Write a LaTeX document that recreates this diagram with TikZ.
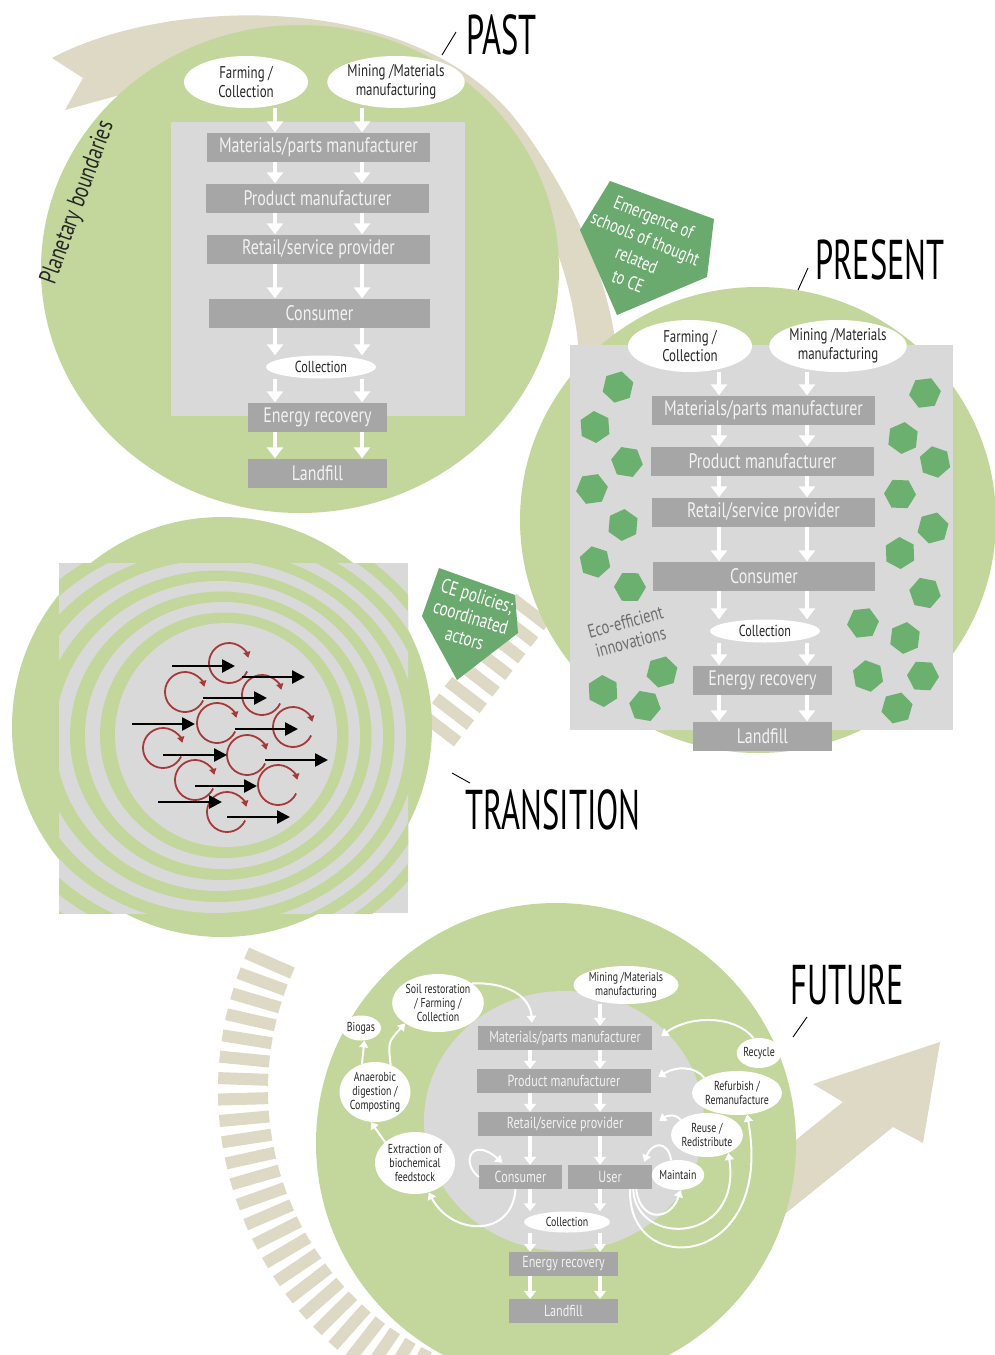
\documentclass[tikz,border=0pt]{standalone}
\usepackage{fontspec}
\setmainfont{PT Sans}[FakeStretch=0.76]
\newfontfamily\titlefont{PT Sans}[FakeStretch=0.58]
\usetikzlibrary{shapes.geometric,arrows.meta,calc}
\definecolor{cgreen}{HTML}{C3D69B}
\definecolor{cbeige}{HTML}{DDD9C4}
\definecolor{clgray}{HTML}{D9D9D9}
\definecolor{cbox}{HTML}{A6A6A6}
\definecolor{cboxtext}{HTML}{F2F2F2}
\definecolor{chex}{HTML}{6CB06F}
\definecolor{cpent}{HTML}{6BAA6E}
\definecolor{cred}{HTML}{A63A3A}
\definecolor{ctext}{HTML}{262626}
\definecolor{cecotext}{HTML}{6E6E6E}
\begin{document}
\begin{tikzpicture}[x=1pt,y=-1pt,
  box/.style={fill=cbox,text=cboxtext,minimum width=223pt,minimum height=29pt,inner sep=0pt,font=\fontsize{21}{23}\selectfont},
  ell/.style={ellipse,fill=white,text=ctext,minimum width=124pt,minimum height=52pt,inner sep=0pt,align=center,font=\fontsize{17}{19}\selectfont},
  coll/.style={ellipse,fill=white,text=ctext,minimum width=110pt,minimum height=23pt,inner sep=0pt,font=\fontsize{16}{18}\selectfont},
  warrow/.style={draw=white,line width=4.5pt,-{Triangle[width=16pt,length=11pt]}},
  fbox/.style={fill=cbox,text=cboxtext,minimum width=174pt,minimum height=24pt,inner sep=0pt,font=\fontsize{16}{18}\selectfont},
  fell/.style={ellipse,fill=white,text=ctext,inner sep=0pt,align=center,font=\fontsize{13}{14}\selectfont},
  fcoll/.style={ellipse,fill=white,text=ctext,minimum width=86pt,minimum height=21pt,inner sep=0pt,font=\fontsize{13}{14}\selectfont},
  farrow/.style={draw=white,line width=3.5pt,-{Triangle[width=12pt,length=8pt]}},
  fcurve/.style={draw=white,line width=2pt,-{Triangle[width=9pt,length=7pt]}},
  hexa/.style={regular polygon,regular polygon sides=6,fill=chex,minimum size=32pt,inner sep=0pt},
  tie/.style={draw=cbeige,line width=12pt},
  redarc/.style={draw=cred,line width=1.8pt,-{Triangle[width=7pt,length=6pt]}},
  blkarrow/.style={draw=black,line width=2.6pt,-{Triangle[width=13pt,length=13pt]}},
  title/.style={font=\titlefont\fontsize{56}{60}\selectfont,inner sep=0pt,text=black},
  leader/.style={draw=black,line width=0.9pt},
]
\useasboundingbox (0,0) rectangle (995,1355);
\clip (0,0) rectangle (995,1355);
\fill[white] (0,0) rectangle (995,1355);

% ---------- beige path (planetary boundaries) ----------
\fill[cbeige] (52,58) .. controls (170,-5) and (420,-10) .. (520,125)
  .. controls (570,192) and (612,280) .. (618,365) -- (580,365)
  .. controls (575,290) and (555,230) .. (520,185)
  .. controls (420,60) and (250,50) .. (153,85)
  .. controls (120,95) .. (65,110) -- (83,78) -- cycle;
% ties between present and transition
\foreach \t in {0,...,7}{
  \pgfmathsetmacro\cx{530-12.83*\t}
  \pgfmathsetmacro\cy{612+16.61*\t}
  \draw[tie] (\cx-17.4,\cy-13.4) -- (\cx+17.4,\cy+13.4);
}
% ties around the future circle
\foreach \a in {110,113.6,...,205}{
  \draw[tie] ($(560,1090)+(\a:292)$) -- ($(560,1090)+(\a:342)$);
}
% final arrow
\fill[cbeige] (781,1152) -- (843,1102) -- (813,1084) -- (940,1042) -- (923,1143) -- (893,1127) -- (776,1221) -- cycle;

% ---------- big circles ----------
\fill[cgreen] (300,269) ellipse[x radius=259,y radius=244];
\fill[cgreen] (758,520) ellipse[x radius=238,y radius=233];

% ---------- TRANSITION ----------
\fill[cgreen] (222,727) circle[radius=210];
\fill[clgray] (59,563) rectangle (408,913);
\begin{scope}
  \clip (59,563) rectangle (408,913);
  \foreach \j in {11,10,...,0}{
    \pgfmathsetmacro\L{115-15*\j}
    \pgfmathsetmacro\R{337+11.5*\j}
    \pgfmathsetmacro\T{623-10.5*\j}
    \pgfmathsetmacro\B{847+11*\j}
    \pgfmathtruncatemacro\odd{mod(\j,2)}
    \ifnum\odd=1 \def\ringcol{cgreen}\else\def\ringcol{clgray}\fi
    \fill[\ringcol] ({(\L+\R)/2},{(\T+\B)/2}) ellipse[x radius={(\R-\L)/2},y radius={(\B-\T)/2}];
  }
\end{scope}
\foreach \p in {(229,663),(185,692),(262,695),(217,723),(293,727),(163,748),(247,755),(195,780),(278,785),(227,812)}
  \draw[redarc] \p ++(25:20) arc[start angle=25,end angle=345,radius=20];
\foreach \xa/\xb/\yy in {172/235/666,242/305/677,203/267/698,132/195/724,235/298/729,163/227/755,265/328/760,195/257/786,158/222/802,227/290/817}
  \draw[blkarrow] (\xa,\yy) -- (\xb,\yy);

% ---------- FUTURE circles ----------
\fill[cgreen] (556,1143) circle[radius=240];
\fill[clgray] (564,1121) ellipse[x radius=140,y radius=130];

% ---------- pentagons ----------
\fill[cpent] (610,181) -- (714,219) -- (707,277) -- (617,315) -- (580,230) -- cycle;
\node[font=\fontsize{19}{23}\selectfont,text=white,rotate=-22,align=center,inner sep=0pt] (emtext) at (641,249) {Emergence of\\schools of thought\\related\\to CE};
\fill[cpent] (439,568) -- (515,595) -- (518,633) -- (457,680) -- (422,616) -- cycle;
\node[font=\fontsize{20}{22}\selectfont,text=white,rotate=-17,align=center,inner sep=0pt] (cetext) at (471,617) {CE policies;\\coordinated\\actors};

% ---------- PAST ----------
\node[font=\fontsize{25}{27}\selectfont,text=ctext,rotate=70,inner sep=0pt] (pb) at (78,203) {Planetary boundaries};
\fill[clgray] (171,122) rectangle (465,416);
\node[ell] (pfarm) at (246,82) {Farming /\\Collection};
\node[ell] (pmine) at (396,82) {Mining /Materials\\manufacturing};
\node[box] (pmat) at (318.5,147) {Materials/parts manufacturer};
\node[box] (pprod) at (317.5,198) {Product manufacturer};
\node[box] (pret) at (318.5,249) {Retail/service provider};
\node[box,minimum width=221pt] (pcons) at (319.5,313) {Consumer};
\node[coll] (pcoll) at (321,367) {Collection};
\node[box,minimum width=139pt] (pen) at (317.5,417) {Energy recovery};
\node[box,minimum width=139pt] (pland) at (317.5,473) {Landfill};
\coordinate (pL) at (275,0);
\coordinate (pR) at (362,0);
\draw[warrow] (pfarm.south -| pL) -- (pmat.north -| pL);
\draw[warrow] (pmine.south -| pR) -- (pmat.north -| pR);
\foreach \u/\v in {pmat/pprod,pprod/pret,pret/pcons,pcons/pcoll,pcoll/pen,pen/pland}{
  \draw[warrow] (\u.south -| pL) -- (\v.north -| pL);
  \draw[warrow] (\u.south -| pR) -- (\v.north -| pR);
}

% ---------- PRESENT ----------
\fill[clgray] (570,345) rectangle (953,730);
\foreach \p [count=\i] in {(618,387),(595,427),(627,462),(592,489),(623,525),(595,562),(630,587),(662,672),(603,691),(645,706),(925,393),(903,438),(935,462),(900,494),(933,528),(900,553),(925,593),(863,623),(905,638),(868,676),(923,676),(897,708)}
  \node[hexa,rotate=\i*17] (hx\i) at \p {};
\node[font=\fontsize{19}{21}\selectfont,text=cecotext,rotate=15,align=center,inner sep=0pt] (eco) at (628,632) {Eco-efficient\\innovations};
\node[ell] (rfarm) at (690,346) {Farming /\\Collection};
\node[ell] (rmine) at (838,346) {Mining /Materials\\manufacturing};
\node[box] (rmat) at (763.5,410) {Materials/parts manufacturer};
\node[box] (rprod) at (762.5,461) {Product manufacturer};
\node[box] (rret) at (763.5,512) {Retail/service provider};
\node[box,minimum width=222pt] (rcons) at (764,576) {Consumer};
\node[coll] (rcoll) at (765,631) {Collection};
\node[box,minimum width=139pt] (ren) at (762.5,680) {Energy recovery};
\node[box,minimum width=139pt] (rland) at (762.5,736) {Landfill};
\coordinate (rL) at (719,0);
\coordinate (rR) at (807,0);
\draw[warrow] (rfarm.south -| rL) -- (rmat.north -| rL);
\draw[warrow] (rmine.south -| rR) -- (rmat.north -| rR);
\foreach \u/\v in {rmat/rprod,rprod/rret,rret/rcons,rcons/rcoll,rcoll/ren,ren/rland}{
  \draw[warrow] (\u.south -| rL) -- (\v.north -| rL);
  \draw[warrow] (\u.south -| rR) -- (\v.north -| rR);
}

% ---------- FUTURE ----------
\node[fbox] (fmat) at (565,1038) {Materials/parts manufacturer};
\node[fbox] (fprod) at (564,1081) {Product manufacturer};
\node[fbox] (fret) at (565,1124) {Retail/service provider};
\node[fbox,minimum width=83pt] (fcons) at (520.5,1177) {Consumer};
\node[fbox,minimum width=84pt] (fuser) at (610,1177) {User};
\node[fcoll] (fcoll) at (567,1222) {Collection};
\node[fbox,minimum width=109pt] (fen) at (563.5,1264) {Energy recovery};
\node[fbox,minimum width=109pt] (fland) at (563.5,1311) {Landfill};
\node[fell,minimum width=82pt,minimum height=58pt] (fsoil) at (438,1003) {Soil restoration\\/ Farming /\\Collection};
\node[fell,minimum width=80pt,minimum height=38pt] (fmine) at (626,985) {Mining /Materials\\manufacturing};
\node[fell,minimum width=40pt,minimum height=25pt] (fbio) at (361,1028) {Biogas};
\node[fell,minimum width=70pt,minimum height=60pt] (fana) at (375,1092) {Anaerobic\\digestion /\\Composting};
\node[fell,minimum width=80pt,minimum height=62pt] (fext) at (415,1163) {Extraction of\\biochemical\\feedstock};
\node[fell,minimum width=42pt,minimum height=30pt] (frec) at (759,1053) {Recycle};
\node[fell,minimum width=86pt,minimum height=44pt] (fref) at (737,1093) {Refurbish /\\Remanufacture};
\node[fell,minimum width=70pt,minimum height=44pt] (freu) at (707,1135) {Reuse /\\Redistribute};
\node[fell,minimum width=44pt,minimum height=30pt] (fmai) at (678,1175) {Maintain};
\coordinate (fL) at (530,0);
\coordinate (fR) at (600,0);
\draw[farrow] (fmine.south -| fR) -- (fmat.north -| fR);
\foreach \u/\v in {fmat/fprod,fprod/fret,fcoll/fen,fen/fland}{
  \draw[farrow] (\u.south -| fL) -- (\v.north -| fL);
  \draw[farrow] (\u.south -| fR) -- (\v.north -| fR);
}
\draw[farrow] (fret.south -| fL) -- (fcons.north -| fL);
\draw[farrow] (fret.south -| fR) -- (fuser.north -| fR);
\draw[farrow] (fcons.south -| fL) -- (fcoll.north -| fL);
\draw[farrow] (fuser.south -| fR) -- (fcoll.north -| fR);
% curved flows
\draw[fcurve] (fsoil.30) .. controls (505,982) and (530,995) .. ($(fmat.north)+(-33,-3)$);
\draw[fcurve] (fana.60) .. controls (388,1042) .. (fsoil.212);
\draw[fcurve] (fana.115) -- (fbio.285);
\draw[fcurve] (fext.145) -- (fana.262);
\draw[fcurve] ($(fcons.south)+(-5,0)$) .. controls (512,1238) and (452,1236) .. (fext.-65);
\draw[fcurve] (fcons.west) .. controls (460,1162) and (472,1136) .. ($(fcons.north)+(-18,-2)$);
\draw[fcurve] (frec.110) .. controls (735,1015) and (690,1015) .. ($(fmat.east)+(9,-2)$);
\draw[fcurve] (fref.155) .. controls (695,1066) and (676,1066) .. ($(fprod.east)+(7,-4)$);
\draw[fcurve] (freu.150) .. controls (675,1113) and (666,1116) .. ($(fret.east)+(7,-3)$);
\draw[fcurve] (fmai.115) .. controls (668,1140) and (652,1142) .. ($(fuser.north east)+(-8,-3)$);
\draw[fcurve] ($(fuser.south east)+(-16,0)$) .. controls (640,1222) and (670,1222) .. (fmai.-80);
\draw[fcurve] ($(fuser.south east)+(-19,0)$) .. controls (636,1248) and (742,1244) .. (freu.-40);
\draw[fcurve] ($(fuser.south east)+(-22,0)$) .. controls (626,1280) and (775,1270) .. (fref.-65);

% ---------- titles ----------
\node[title,anchor=west] (tpast) at (466,35) {PAST};
\draw[leader] (tpast.west) ++(-10,-3) -- ++(-14,23);
\node[title,anchor=west] (tpres) at (815,260) {PRESENT};
\draw[leader] (tpres.west) ++(-7,8) -- ++(-10,22);
\node[title,anchor=west] (ttrans) at (465,810) {TRANSITION};
\draw[leader] (ttrans.west) ++(5,-27) -- ++(-18,-10);
\node[title,anchor=west] (tfut) at (790,985) {FUTURE};
\draw[leader] (tfut.west) ++(17,32) -- ++(-14,20);
\end{tikzpicture}
\end{document}
